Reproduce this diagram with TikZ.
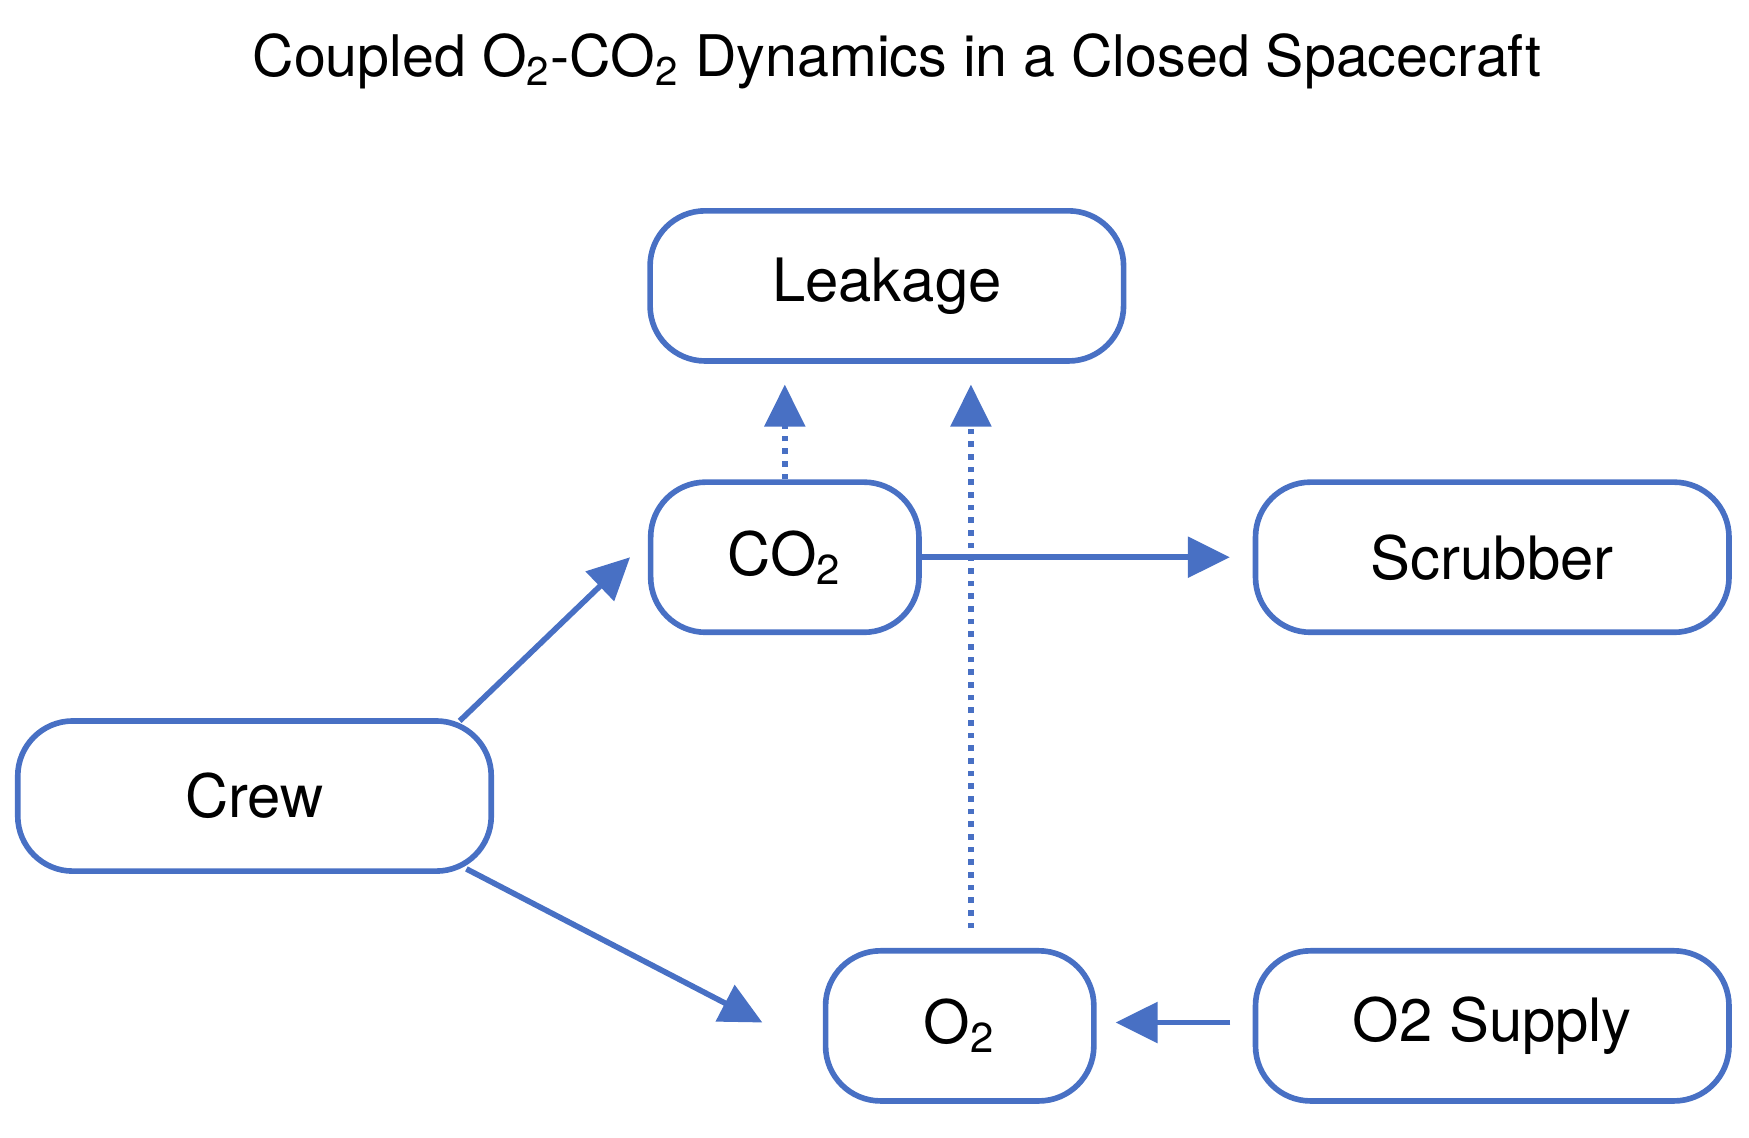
\documentclass[tikz,border=0pt]{standalone}
\usepackage{fontspec}
\setmainfont{TeX Gyre Heros}
\usetikzlibrary{arrows.meta}
\definecolor{boxblue}{RGB}{72,112,196}

\begin{document}
\begin{tikzpicture}[x=0.0112cm, y=-0.0112cm, line width=1.6pt,
    box/.style = {draw=boxblue, rounded corners=0.55cm, minimum height=1.5cm, font=\fontsize{17}{20}\selectfont},
    wide/.style = {box, minimum width=4.73cm},
    narrow/.style = {box, minimum width=2.68cm},
    flow/.style = {draw=boxblue, -{Triangle[length=0.42cm, width=0.4cm]}},
    leak/.style = {flow, dotted}]
    \useasboundingbox (0,0) rectangle (1560,1015);
    \node (title) at (800,55) {\fontsize{16.3}{19}\selectfont Coupled O\textsubscript{2}-CO\textsubscript{2} Dynamics in a Closed Spacecraft};
    \node[wide] (leakage) at (791,255) {Leakage};
    \node[narrow] (co2) at (700,497) {CO\textsubscript{2}};
    \node[wide] (scrubber) at (1331,497) {Scrubber};
    \node[wide] (crew) at (227,710) {Crew};
    \node[narrow] (o2) at (856,915) {O\textsubscript{2}};
    \node[wide] (supply) at (1331,915) {O2 Supply};
    % free ends of the arrows
    \coordinate (leakA) at (700,343);
    \coordinate (leakB) at (866,343);
    \coordinate (o2top) at (866,828);
    \coordinate (crewA) at (410,643);
    \coordinate (crewB) at (416,775);
    \coordinate (co2in) at (562,497);
    \coordinate (o2in) at (680,912);
    \coordinate (scrubin) at (1097,497);
    \coordinate (o2east) at (995,912);
    \draw[flow] (crewA) -- (co2in);
    \draw[flow] (crewB) -- (o2in);
    \draw[flow] (co2.east) -- (scrubin);
    \draw[flow] (supply.west |- o2east) ++(-20,0) -- (o2east);
    \draw[leak] (co2.north) -- (leakA);
    \draw[leak] (o2top) -- (leakB);
\end{tikzpicture}
\end{document}
